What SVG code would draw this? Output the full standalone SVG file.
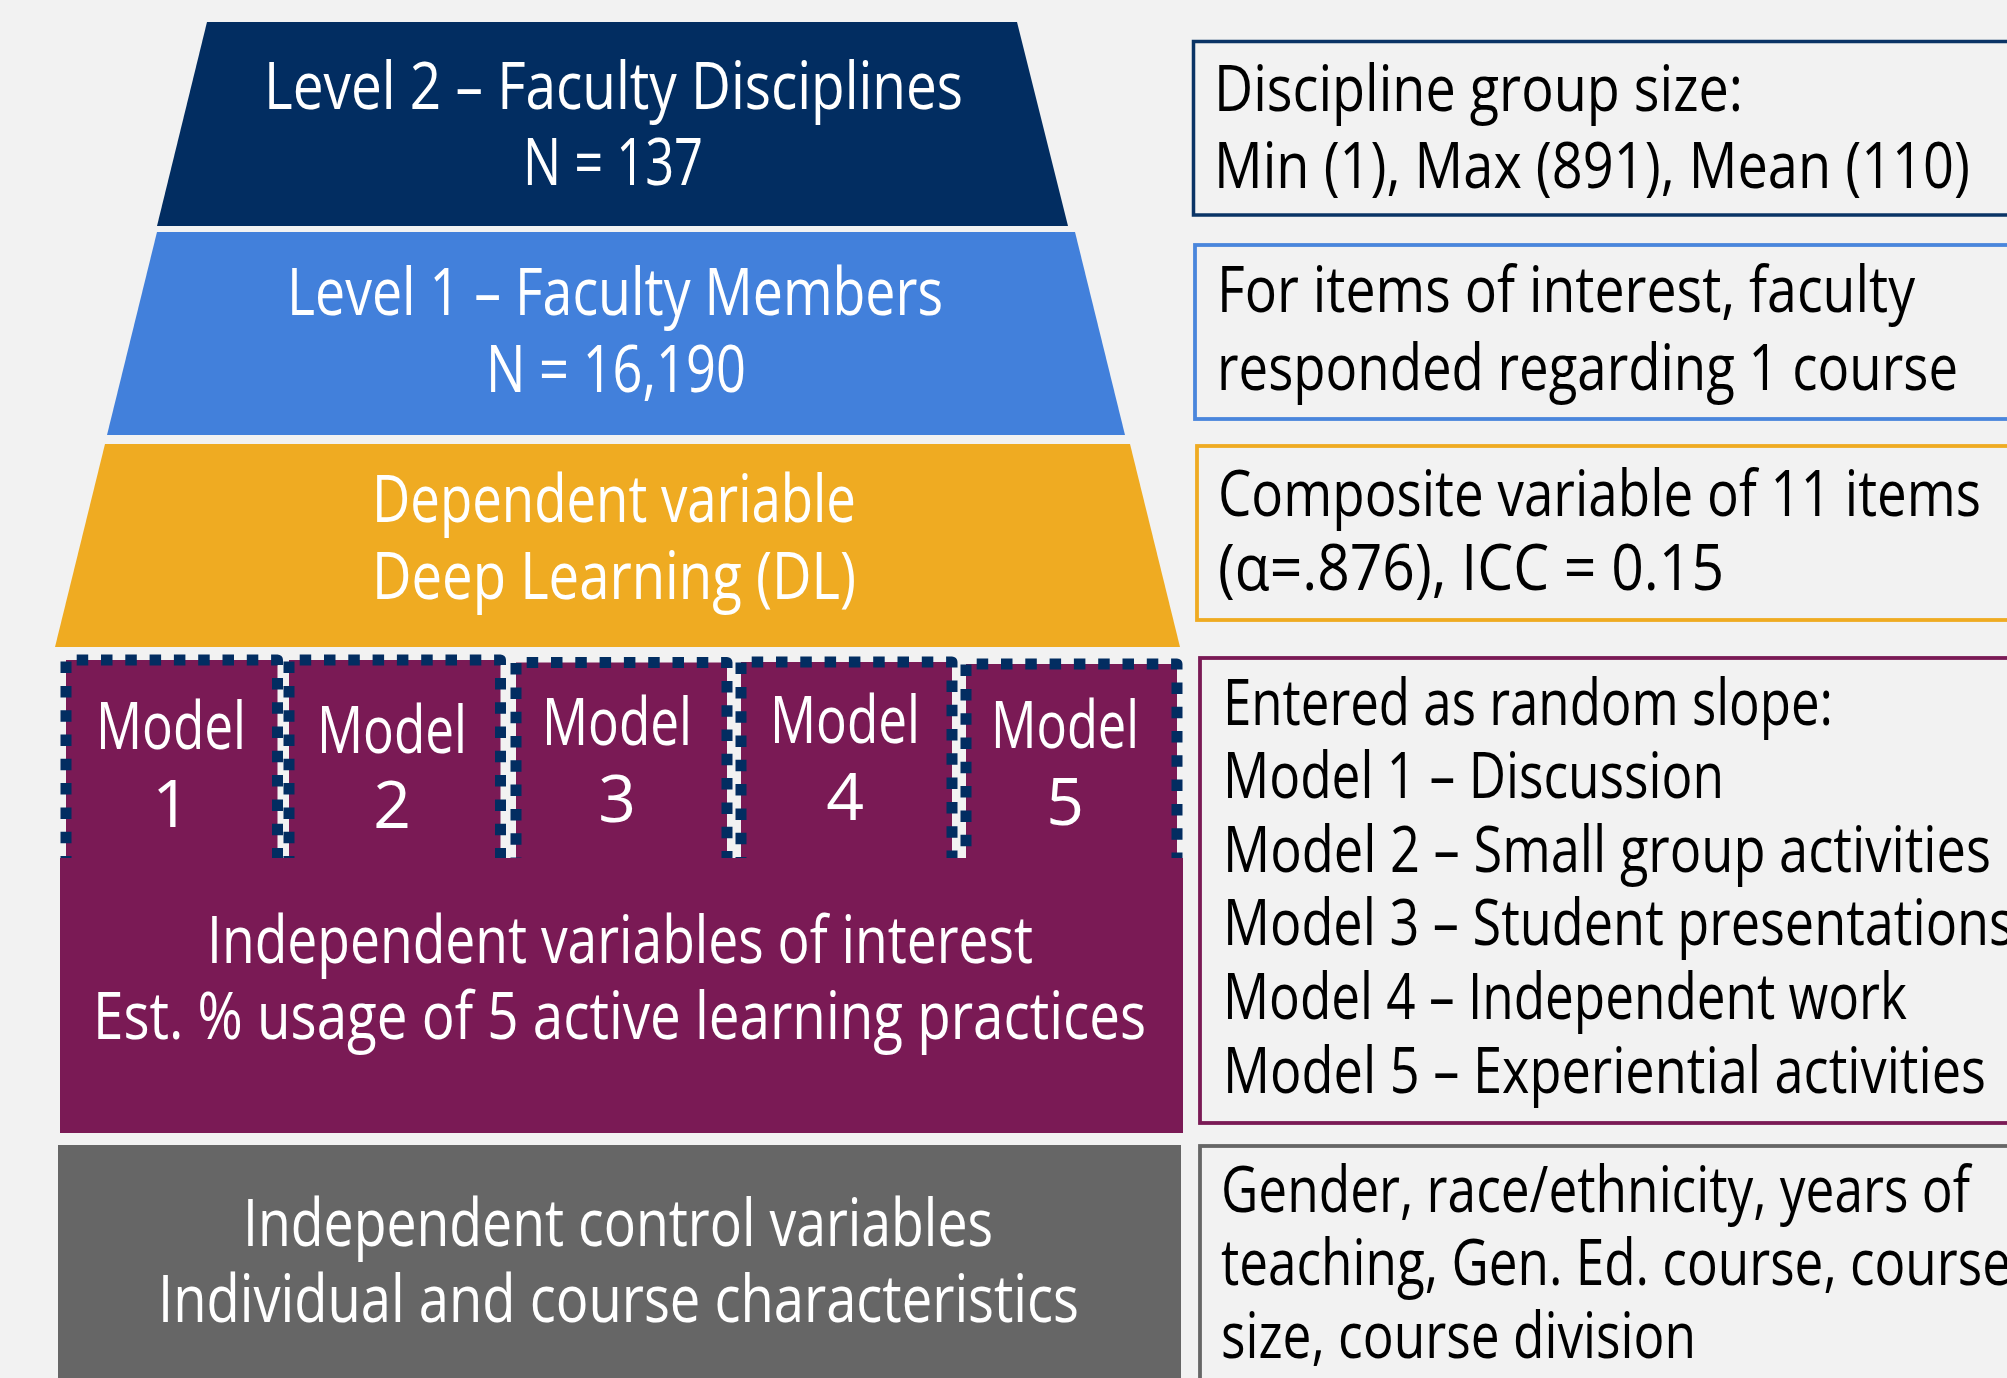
<svg xmlns="http://www.w3.org/2000/svg" width="2007" height="1378" viewBox="0 0 2007 1378">
  <style>
    .lbl { font-family: "Open Sans", "Liberation Sans", sans-serif; font-size: 65px; fill: #ffffff; }
    .mdl { font-family: "Open Sans", "Liberation Sans", sans-serif; font-size: 66px; fill: #ffffff; text-anchor: middle; }
    .note { font-family: "Open Sans", "Liberation Sans", sans-serif; font-size: 64px; fill: #000000; }
    .model-box { fill: #7a1a55; stroke: #022d61; stroke-width: 11; stroke-dasharray: 11.5 12.8; stroke-dashoffset: 13.6; stroke-linejoin: round; }
    .box { fill: #f2f2f2; }
  </style>

  <rect x="0" y="0" width="2007" height="1378" fill="#f2f2f2"/>

  <!-- Pyramid tiers -->
  <g id="level2">
    <polygon points="207,22 1017,22 1068,226 157,226" fill="#022d61"/>
    <text class="lbl" x="264" y="109" textLength="699" lengthAdjust="spacingAndGlyphs">Level 2 – Faculty Disciplines</text>
    <text class="lbl" x="523" y="185" textLength="180" lengthAdjust="spacingAndGlyphs">N = 137</text>
  </g>

  <g id="level1">
    <polygon points="157,232 1075,232 1125,435 107,435" fill="#4280db"/>
    <text class="lbl" x="287" y="315" textLength="656" lengthAdjust="spacingAndGlyphs">Level 1 – Faculty Members</text>
    <text class="lbl" x="486" y="392" textLength="260" lengthAdjust="spacingAndGlyphs">N = 16,190</text>
  </g>

  <g id="dependent">
    <polygon points="105,444 1130,444 1180,647 55,647" fill="#efab22"/>
    <text class="lbl" x="372" y="522" textLength="484" lengthAdjust="spacingAndGlyphs">Dependent variable</text>
    <text class="lbl" x="372" y="599" textLength="484" lengthAdjust="spacingAndGlyphs">Deep Learning (DL)</text>
  </g>

  <!-- Model tabs sit above the purple body, which hides their bottom edges -->
  <g id="model1">
    <rect class="model-box" x="66" y="660" width="211.5" height="213.5"/>
    <text class="mdl" x="171" y="749" textLength="150" lengthAdjust="spacingAndGlyphs">Model</text>
    <text class="mdl" x="171" y="827">1</text>
  </g>
  <g id="model2">
    <rect class="model-box" x="289" y="660" width="211.5" height="213.5"/>
    <text class="mdl" x="392" y="753" textLength="150" lengthAdjust="spacingAndGlyphs">Model</text>
    <text class="mdl" x="392" y="828">2</text>
  </g>
  <g id="model3">
    <rect class="model-box" x="516" y="662.5" width="211" height="213.5"/>
    <text class="mdl" x="617" y="745" textLength="150" lengthAdjust="spacingAndGlyphs">Model</text>
    <text class="mdl" x="617" y="822">3</text>
  </g>
  <g id="model4">
    <rect class="model-box" x="741" y="662" width="211" height="213.5"/>
    <text class="mdl" x="845" y="743" textLength="150" lengthAdjust="spacingAndGlyphs">Model</text>
    <text class="mdl" x="845" y="820">4</text>
  </g>
  <g id="model5">
    <rect class="model-box" x="966" y="664" width="211" height="213.5"/>
    <text class="mdl" x="1065" y="748" textLength="148" lengthAdjust="spacingAndGlyphs">Model</text>
    <text class="mdl" x="1065" y="825">5</text>
  </g>

  <g id="interest">
    <rect x="60" y="858" width="1123" height="275" fill="#7a1a55"/>
    <text class="lbl" x="207" y="963" textLength="826" lengthAdjust="spacingAndGlyphs">Independent variables of interest</text>
    <text class="lbl" x="93" y="1039" textLength="1053" lengthAdjust="spacingAndGlyphs">Est. % usage of 5 active learning practices</text>
  </g>

  <g id="control">
    <rect x="58" y="1145" width="1123" height="260" fill="#666666"/>
    <text class="lbl" x="243" y="1246" textLength="750" lengthAdjust="spacingAndGlyphs">Independent control variables</text>
    <text class="lbl" x="158" y="1322" textLength="921" lengthAdjust="spacingAndGlyphs">Individual and course characteristics</text>
  </g>

  <!-- Annotation boxes on the right -->
  <g id="note-level2">
    <rect class="box" x="1193.5" y="41.5" width="840" height="173.5" stroke="#0a3466" stroke-width="3.5"/>
    <text class="note" x="1214" y="111" textLength="529" lengthAdjust="spacingAndGlyphs">Discipline group size:</text>
    <text class="note" x="1214" y="188" textLength="756" lengthAdjust="spacingAndGlyphs">Min (1), Max (891), Mean (110)</text>
  </g>

  <g id="note-level1">
    <rect class="box" x="1195" y="245" width="840" height="174" stroke="#4a86dc" stroke-width="3.8"/>
    <text class="note" x="1217" y="312" textLength="698" lengthAdjust="spacingAndGlyphs">For items of interest, faculty</text>
    <text class="note" x="1217" y="390" textLength="741" lengthAdjust="spacingAndGlyphs">responded regarding 1 course</text>
  </g>

  <g id="note-dependent">
    <rect class="box" x="1197" y="446" width="840" height="174" stroke="#efab22" stroke-width="3.8"/>
    <text class="note" x="1218" y="516" textLength="763" lengthAdjust="spacingAndGlyphs">Composite variable of 11 items</text>
    <text class="note" x="1218" y="590" textLength="506" lengthAdjust="spacingAndGlyphs">(α=.876), ICC = 0.15</text>
  </g>

  <g id="note-interest">
    <rect class="box" x="1200" y="658" width="840" height="465" stroke="#7a1a55" stroke-width="3.8"/>
    <text class="note" x="1223" y="725" textLength="610" lengthAdjust="spacingAndGlyphs">Entered as random slope:</text>
    <text class="note" x="1223" y="798" textLength="501" lengthAdjust="spacingAndGlyphs">Model 1 – Discussion</text>
    <text class="note" x="1223" y="872" textLength="768" lengthAdjust="spacingAndGlyphs">Model 2 – Small group activities</text>
    <text class="note" x="1223" y="945" textLength="791" lengthAdjust="spacingAndGlyphs">Model 3 – Student presentations</text>
    <text class="note" x="1223" y="1019" textLength="684" lengthAdjust="spacingAndGlyphs">Model 4 – Independent work</text>
    <text class="note" x="1223" y="1093" textLength="763" lengthAdjust="spacingAndGlyphs">Model 5 – Experiential activities</text>
  </g>

  <g id="note-control">
    <rect class="box" x="1200" y="1146" width="840" height="260" stroke="#666666" stroke-width="3.8"/>
    <text class="note" x="1221" y="1212" textLength="749" lengthAdjust="spacingAndGlyphs">Gender, race/ethnicity, years of</text>
    <text class="note" x="1221" y="1285" textLength="790" lengthAdjust="spacingAndGlyphs">teaching, Gen. Ed. course, course</text>
    <text class="note" x="1221" y="1358" textLength="475" lengthAdjust="spacingAndGlyphs">size, course division</text>
  </g>

  <!-- No connectors in this figure -->
  <g id="connectors"/>
</svg>
